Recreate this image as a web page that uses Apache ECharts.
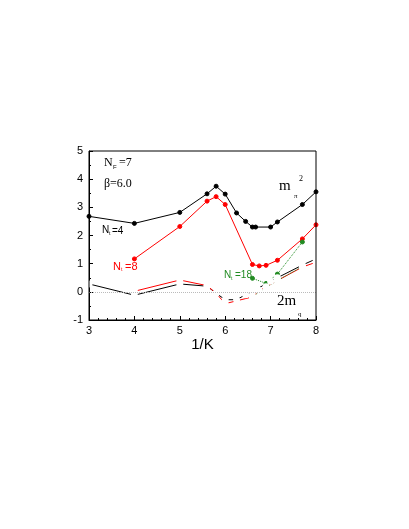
<!DOCTYPE html>
<html>
<head>
<meta charset="utf-8">
<script src="https://cdn.jsdelivr.net/npm/echarts@6/dist/echarts.min.js"></script>
<style>html,body{margin:0;background:#fff}#c{width:409px;height:529px}</style>
</head>
<body>
<div id="c"></div>
<script>
// 1/K values and measured data
const blackMpi = [[3,2.68],[4,2.43],[5,2.82],[5.6,3.48],[5.8,3.75],[6,3.47],[6.25,2.8],[6.45,2.5],[6.6,2.3],[6.67,2.3],[7,2.3],[7.15,2.48],[7.7,3.1],[8,3.55]];
const redMpi = [[4,1.17],[5,2.32],[5.6,3.22],[5.8,3.38],[6,3.1],[6.6,0.97],[6.75,0.92],[6.9,0.94],[7.15,1.12],[7.7,1.88],[8,2.38]];
const greenMpi = [[6.6,0.48],[6.9,0.3],[7.15,0.63],[7.7,1.77]];
const blackMq = [[3,0.28],[4,-0.12],[5,0.28],[5.6,0.2],[5.8,-0.05],[6,-0.28],[6.25,-0.28],[6.45,-0.1],[6.6,0.0],[6.7,0.1],[7,0.38],[7.15,0.5],[7.7,0.95],[8,1.17]];
const redMq = [[4,0.02],[5,0.42],[5.6,0.22],[5.8,-0.05],[6,-0.42],[6.6,-0.18],[6.75,0.05],[6.9,0.18],[7.15,0.4],[7.7,0.88],[8,1.05]];
const greenMq = [[6.6,-0.17],[6.9,0.15],[7.15,0.4],[7.7,0.9]];

const chart = echarts.init(document.getElementById('c'));
const txt = { fontFamily: 'Liberation Sans' };

function line(data, color, symbol, dotted) {
  return {
    type: 'line', data: data, symbol: symbol, symbolSize: symbol === 'circle' ? 4 : 5,
    itemStyle: { color: symbol === 'emptyCircle' ? '#fff' : color, borderColor: color, borderWidth: 1 },
    lineStyle: { color: color, width: 1, type: dotted ? 'dotted' : 'solid' },
    animation: false, z: 3
  };
}

chart.setOption({
  grid: { left: 89, right: 93, top: 151, bottom: 209 },
  xAxis: {
    type: 'value', min: 3, max: 8, interval: 1,
    name: '1/K', nameLocation: 'middle', nameGap: 17,
    nameTextStyle: { fontSize: 15, color: '#000', fontFamily: 'Liberation Sans' },
    axisLine: { onZero: false, lineStyle: { color: '#000' } },
    axisTick: { inside: true, length: 4, lineStyle: { color: '#000' } },
    minorTick: { show: true, splitNumber: 5, length: 2, lineStyle: { color: '#000' } },
    axisLabel: Object.assign({ color: '#000', fontSize: 11, margin: 5 }, txt),
    splitLine: { show: false }
  },
  yAxis: {
    type: 'value', min: -1, max: 5, interval: 1,
    axisLine: { show: true, lineStyle: { color: '#000' } },
    axisTick: { inside: true, length: 4, lineStyle: { color: '#000' } },
    minorTick: { show: true, splitNumber: 2, length: 2, lineStyle: { color: '#000' } },
    axisLabel: Object.assign({ color: '#000', fontSize: 11, margin: 6 }, txt),
    splitLine: { show: false }
  },
  graphic: [
    { type: 'rect', shape: { x: 89, y: 151, width: 227, height: 169 }, style: { fill: 'none', stroke: '#000', lineWidth: 1 }, z: 10 },
    { type: 'text', left: 104, top: 157, style: { text: 'N', fontSize: 12, fontFamily: 'Liberation Serif', fill: '#000' } },
    { type: 'text', left: 113, top: 164, style: { text: 'F', fontSize: 6, fontFamily: 'Liberation Sans', fill: '#000' } },
    { type: 'text', left: 119, top: 157, style: { text: '=7', fontSize: 12, fontFamily: 'Liberation Serif', fill: '#000' } },
    { type: 'text', left: 104, top: 178, style: { text: 'β=6.0', fontSize: 12, fontFamily: 'Liberation Serif', fill: '#000' } },
    { type: 'text', left: 279, top: 179, style: { text: 'm', fontSize: 15, fontFamily: 'Liberation Serif', fill: '#000' } },
    { type: 'text', left: 294, top: 193, style: { text: 'π', fontSize: 7, fontFamily: 'Liberation Serif', fill: '#000' } },
    { type: 'text', left: 299, top: 175, style: { text: '2', fontSize: 8, fontFamily: 'Liberation Serif', fill: '#000' } },
    { type: 'text', left: 277, top: 294, style: { text: '2m', fontSize: 15, fontFamily: 'Liberation Serif', fill: '#000' } },
    { type: 'text', left: 298, top: 311, style: { text: 'q', fontSize: 7, fontFamily: 'Liberation Serif', fill: '#000' } },
    { type: 'text', left: 102, top: 225, style: { text: 'N', fontSize: 10, fontFamily: 'Liberation Sans', fill: '#000' } },
    { type: 'text', left: 109, top: 231, style: { text: 't', fontSize: 5, fontFamily: 'Liberation Sans', fill: '#000' } },
    { type: 'text', left: 112, top: 226, style: { text: '=4', fontSize: 10, fontFamily: 'Liberation Sans', fill: '#000' } },
    { type: 'text', left: 113, top: 261, style: { text: 'N', fontSize: 11, fontFamily: 'Liberation Sans', fill: '#f00' } },
    { type: 'text', left: 121, top: 267, style: { text: 't', fontSize: 5, fontFamily: 'Liberation Sans', fill: '#f00' } },
    { type: 'text', left: 125, top: 261, style: { text: '=8', fontSize: 11, fontFamily: 'Liberation Sans', fill: '#f00' } },
    { type: 'text', left: 224, top: 270, style: { text: 'N', fontSize: 10, fontFamily: 'Liberation Sans', fill: '#228b22' } },
    { type: 'text', left: 231, top: 276, style: { text: 't', fontSize: 5, fontFamily: 'Liberation Sans', fill: '#228b22' } },
    { type: 'text', left: 235, top: 270, style: { text: '=18', fontSize: 10, fontFamily: 'Liberation Sans', fill: '#228b22' } }
  ],
  series: [
    line(blackMpi, '#000', 'circle'),
    line(redMpi, '#f00', 'circle'),
    line(greenMpi, '#228b22', 'circle', true),
    line(blackMq, '#000', 'emptyCircle'),
    line(redMq, '#f00', 'emptyCircle'),
    Object.assign(line(greenMq, '#228b22', 'emptyCircle', true), {
      markLine: { silent: true, symbol: 'none', label: { show: false }, lineStyle: { color: '#bbb', type: 'dotted', width: 1 }, data: [{ yAxis: 0 }] }
    })
  ]
});
</script>
</body>
</html>
